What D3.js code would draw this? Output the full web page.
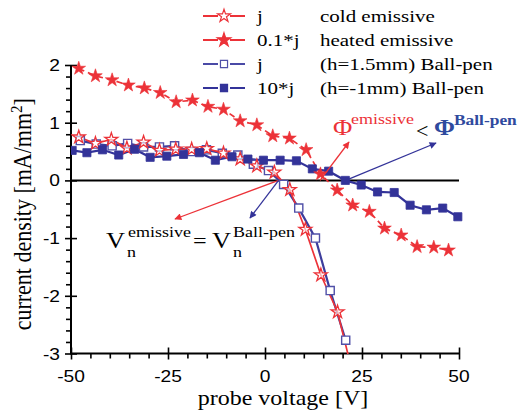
<!DOCTYPE html>
<html>
<head>
<meta charset="utf-8">
<script src="https://cdn.jsdelivr.net/npm/d3@7"></script>
<style>
  html, body { margin: 0; padding: 0; background: #fff; }
  svg { display: block; }
</style>
</head>
<body>
<svg id="chart" width="519" height="413"></svg>
<script>
// ---------------- data ----------------
const xTicks = [-50, -25, 0, 25, 50];
const yTicks = [-3, -2, -1, 0, 1, 2];

// cold emissive, j  (open red stars)
const coldV = [-48.0, -43.7, -39.6, -35.6, -31.3, -27.2, -23.0, -18.9, -15.0, -10.7, -6.4, -2.1, 2.4, 6.4, 10.4, 14.4, 18.7, 22.8];
const coldJ = [0.75, 0.64, 0.71, 0.56, 0.66, 0.52, 0.54, 0.54, 0.55, 0.47, 0.37, 0.25, 0.14, -0.16, -0.85, -1.64, -2.28, -3.40];

// heated emissive, 0.1*j  (filled red stars)
const heatV = [-48.0, -43.7, -39.4, -35.2, -31.1, -27.0, -22.9, -18.7, -14.7, -10.7, -6.4, -2.1, 2.0, 6.3, 10.6, 14.3, 18.6, 22.6, 26.9, 30.8, 35.1, 39.2, 43.5, 47.3];
const heatJ = [1.94, 1.81, 1.74, 1.65, 1.60, 1.52, 1.36, 1.39, 1.28, 1.23, 1.03, 0.96, 0.77, 0.73, 0.53, 0.11, -0.17, -0.43, -0.54, -0.83, -0.95, -1.15, -1.16, -1.21];

// Ball-pen h=1.5mm, j  (open blue squares)
const bp15V = [-47.6, -43.5, -39.4, -35.4, -31.3, -27.2, -23.3, -19.1, -15.1, -11.0, -7.0, -3.0, 0.9, 4.8, 8.7, 13.0, 16.8, 20.8];
const bp15J = [0.69, 0.63, 0.60, 0.64, 0.58, 0.58, 0.60, 0.50, 0.53, 0.47, 0.44, 0.28, 0.17, -0.07, -0.48, -1.00, -1.91, -2.77];

// Ball-pen h=-1mm, 10*j  (filled blue squares)
const bpm1V = [-49.7, -45.9, -41.9, -37.7, -33.6, -29.6, -25.3, -21.0, -16.9, -12.8, -8.5, -4.4, -0.4, 3.9, 8.1, 12.2, 16.4, 20.7, 24.8, 29.0, 33.3, 37.4, 41.6, 45.8, 49.7];
const bpm1J = [0.52, 0.48, 0.53, 0.44, 0.54, 0.40, 0.42, 0.45, 0.48, 0.35, 0.41, 0.37, 0.35, 0.35, 0.34, 0.20, 0.16, 0.00, -0.08, -0.20, -0.21, -0.43, -0.51, -0.48, -0.63];

const legendCoef = ["j", "0.1*j", "j", "10*j"];
const legendText = ["cold emissive", "heated emissive", "(h=1.5mm) Ball-pen", "(h=-1mm) Ball-pen"];

// ---------------- drawing ----------------
const RED = "#ec3238";
const BLUE = "#333399";
const BLUE_OPEN = "#5050a8";
const SERIF = "'Liberation Serif', 'Times New Roman', serif";
const SANS = "'Liberation Sans', Arial, sans-serif";
const SX = 1.2; // horizontal stretch of the original figure's text

const svg = d3.select("#chart");
const x = d3.scaleLinear().domain([-50, 50]).range([71, 459]);
const y = d3.scaleLinear().domain([-3, 2]).range([353.5, 65]);

svg.append("defs").append("clipPath").attr("id", "plotclip")
  .append("rect").attr("x", 71).attr("y", 58).attr("width", 394).attr("height", 296);

function zip(a, b) { return a.map((v, i) => [v, b[i]]); }
const cold = zip(coldV, coldJ), heat = zip(heatV, heatJ), bp15 = zip(bp15V, bp15J), bpm1 = zip(bpm1V, bpm1J);

function txt(g, s, px, py, opts) {
  const t = g.append("text")
    .attr("transform", `translate(${px},${py}) scale(${opts.sx || SX},1)`)
    .attr("font-family", opts.family || SERIF)
    .attr("font-size", opts.size)
    .attr("fill", opts.fill || "#000")
    .attr("text-anchor", opts.anchor || "start")
    .text(s);
  if (opts.weight) t.attr("font-weight", opts.weight);
  return t;
}

// zero line
svg.append("line").attr("x1", x(-50)).attr("x2", x(50)).attr("y1", y(0)).attr("y2", y(0))
  .attr("stroke", "#000").attr("stroke-width", 2);

// axes
const xAxisG = svg.append("g").attr("transform", `translate(0,${y(-3)})`);
xAxisG.call(d3.axisBottom(x).tickValues(d3.range(-50, 51, 5)).tickSize(6).tickFormat(""));
xAxisG.call(g => g.select(".domain").remove());
xAxisG.selectAll(".tick line").attr("stroke", "#000").attr("stroke-width", 1.6)
  .attr("y1", d => xTicks.includes(d) ? -6 : 0).attr("y2", d => xTicks.includes(d) ? 6 : 5);
xAxisG.append("line").attr("x1", x(-50)).attr("x2", x(50)).attr("stroke", "#000").attr("stroke-width", 2);
xTicks.forEach(v => txt(svg, String(v), x(v), 382, { size: 16, family: SANS, anchor: "middle" }));

const yAxisG = svg.append("g").attr("transform", `translate(${x(-50)},0)`);
yAxisG.call(d3.axisLeft(y).tickValues(d3.range(-3, 2.001, 0.2).map(v => Math.round(v * 10) / 10)).tickSize(6).tickFormat(""));
yAxisG.call(g => g.select(".domain").remove());
yAxisG.selectAll(".tick line").attr("stroke", "#000").attr("stroke-width", 1.6)
  .attr("x1", d => yTicks.includes(d) ? 6 : 0).attr("x2", d => yTicks.includes(d) ? -6 : -5);
yAxisG.append("line").attr("y1", y(-3) + 1).attr("y2", y(2)).attr("stroke", "#000").attr("stroke-width", 2);
yTicks.forEach(v => txt(svg, String(v), 60, y(v) + 6, { size: 16, family: SANS, anchor: "end" }));

// axis titles
txt(svg, "probe voltage [V]", 283, 405, { size: 20, anchor: "middle" });
const yt = svg.append("text")
  .attr("transform", `translate(31,${(y(2) + y(-3)) / 2 + 5}) rotate(-90) scale(1,1.1)`)
  .attr("font-family", SERIF).attr("font-size", 22).attr("text-anchor", "middle");
yt.append("tspan").text("current density [mA/mm");
yt.append("tspan").attr("font-size", 15).attr("dy", -8).text("2");
yt.append("tspan").attr("dy", 8).text("]");

// series
const plot = svg.append("g").attr("clip-path", "url(#plotclip)");
const line = d3.line().x(d => x(d[0])).y(d => y(d[1]));
const star = d3.symbol().type(d3.symbolStar).size(58);
const starOpen = d3.symbol().type(d3.symbolStar).size(52);
const square = d3.symbol().type(d3.symbolSquare).size(66);

plot.append("path").datum(bp15).attr("d", line).attr("fill", "none").attr("stroke", "#3d3d9c").attr("stroke-width", 2.2);
plot.append("path").datum(cold).attr("d", line).attr("fill", "none").attr("stroke", RED).attr("stroke-width", 1.7);
plot.append("path").datum(bpm1).attr("d", line).attr("fill", "none").attr("stroke", BLUE).attr("stroke-width", 2.2);
plot.append("path").datum(heat).attr("d", line).attr("fill", "none").attr("stroke", RED).attr("stroke-width", 1.7)
  .attr("stroke-dasharray", "6,4");

plot.selectAll(".m15").data(bp15).join("path").attr("class", "m15")
  .attr("d", square).attr("transform", d => `translate(${x(d[0])},${y(d[1])})`)
  .attr("fill", "#fff").attr("stroke", BLUE_OPEN).attr("stroke-width", 1.4);
plot.selectAll(".mc").data(cold).join("path").attr("class", "mc")
  .attr("d", starOpen).attr("transform", d => `translate(${x(d[0])},${y(d[1])})`)
  .attr("fill", "#fff").attr("fill-opacity", 0.6).attr("stroke", RED).attr("stroke-width", 1.3);
plot.selectAll(".mm1").data(bpm1).join("path").attr("class", "mm1")
  .attr("d", square).attr("transform", d => `translate(${x(d[0])},${y(d[1])})`)
  .attr("fill", BLUE).attr("stroke", BLUE).attr("stroke-width", 0.8);
plot.selectAll(".mh").data(heat).join("path").attr("class", "mh")
  .attr("d", star).attr("transform", d => `translate(${x(d[0])},${y(d[1])})`)
  .attr("fill", RED).attr("stroke", RED).attr("stroke-width", 0.6);

// arrows
const defs = svg.select("defs");
[["ahRed", RED], ["ahBlue", BLUE]].forEach(([id, c]) => {
  defs.append("marker").attr("id", id).attr("viewBox", "0 0 10 10").attr("refX", 9).attr("refY", 5)
    .attr("markerWidth", 9).attr("markerHeight", 7).attr("orient", "auto").attr("markerUnits", "userSpaceOnUse")
    .append("path").attr("d", "M0,0 L10,5 L0,10 Z").attr("fill", c);
});
function arrow(v0, j0, px1, py1, c, id) {
  svg.append("line").attr("x1", x(v0)).attr("y1", y(j0)).attr("x2", px1).attr("y2", py1)
    .attr("stroke", c).attr("stroke-width", 1.3).attr("marker-end", `url(#${id})`);
}
arrow(3.5, 0, 175, 219, RED, "ahRed");
arrow(3.5, 0, 250, 218, BLUE, "ahBlue");
arrow(14.2, 0, 349, 142, RED, "ahRed");
arrow(20.8, 0, 436, 143, BLUE, "ahBlue");

// annotations
txt(svg, "\u03A6", 333, 135, { size: 24, fill: RED, sx: 1.1 });
txt(svg, "emissive", 351, 124, { size: 15, fill: RED });
txt(svg, "<", 416, 138, { size: 20, sx: 1.1 });
txt(svg, "\u03A6", 434, 135, { size: 24, fill: "#2f4a9e", weight: "bold", sx: 1.05 });
txt(svg, "Ball-pen", 454, 125, { size: 14.5, fill: "#2f4a9e", weight: "bold" });

txt(svg, "V", 106, 248, { size: 24, sx: 1.1 });
txt(svg, "n", 127, 257, { size: 15 });
txt(svg, "emissive", 128, 237, { size: 15 });
txt(svg, "=", 193, 248, { size: 22, sx: 1.1 });
txt(svg, "V", 212, 248, { size: 24, sx: 1.1 });
txt(svg, "n", 233, 257, { size: 15 });
txt(svg, "Ball-pen", 233, 237, { size: 15 });

// legend
const lg = svg.append("g");
const legendSym = [
  { sym: starOpen, fill: "#fff", stroke: RED, line: RED },
  { sym: star, fill: RED, stroke: RED, line: RED },
  { sym: d3.symbol().type(d3.symbolSquare).size(50), fill: "#fff", stroke: BLUE_OPEN, line: "#4a4aa6" },
  { sym: d3.symbol().type(d3.symbolSquare).size(50), fill: BLUE, stroke: BLUE, line: BLUE }
];
legendCoef.forEach((c, i) => {
  const cy = 16 + i * 24;
  const s = legendSym[i];
  lg.append("line").attr("x1", 203).attr("x2", 218).attr("y1", cy).attr("y2", cy).attr("stroke", s.line).attr("stroke-width", 2);
  lg.append("line").attr("x1", 230).attr("x2", 245).attr("y1", cy).attr("y2", cy).attr("stroke", s.line).attr("stroke-width", 2);
  lg.append("path").attr("d", s.sym).attr("transform", `translate(224,${cy})`)
    .attr("fill", s.fill).attr("stroke", s.stroke).attr("stroke-width", 1.2);
  txt(lg, c, 257, cy + 6, { size: 17.5 });
  txt(lg, legendText[i], 320, cy + 6, { size: 17.5 });
});
</script>
</body>
</html>
